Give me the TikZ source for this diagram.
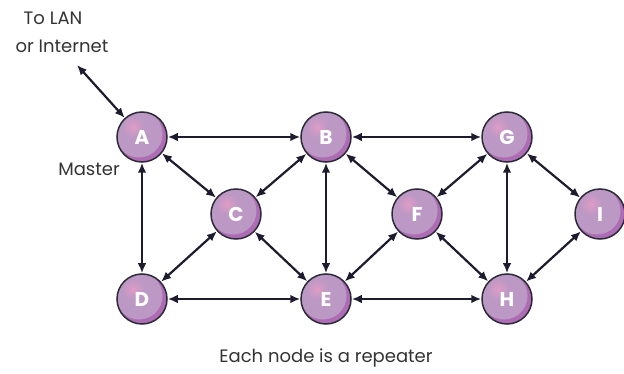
\documentclass[tikz,border=0pt]{standalone}
\usepackage{fontspec}
\setmainfont{Poppins}
\usetikzlibrary{arrows.meta,calc}
\definecolor{mauve}{HTML}{BC98C4}
\definecolor{magdark}{HTML}{AE6CB4}
\definecolor{pinkhl}{HTML}{DE9CC6}
\definecolor{ringc}{HTML}{2B2B38}
\definecolor{arrc}{HTML}{1C1C2E}
\tikzset{
  rep/.style={circle, minimum size=50pt, inner sep=0pt, draw=ringc, line width=1.5pt,
    fill=magdark, text=white, font=\fontsize{20}{20}\selectfont\bfseries,
    path picture={
      \fill[mauve] ($(path picture bounding box.center)+(-3,-3)$) circle (23.5);
      \shade[inner color=pinkhl, outer color=mauve] ($(path picture bounding box.center)+(-9,-10)$) circle (11);
    }},
  link/.style={arrc, line width=2.2pt, {Latex[length=10pt,width=8.5pt]}-{Latex[length=10pt,width=8.5pt]}},
  lbl/.style={text=black!80, font=\fontsize{18}{18}\selectfont, inner sep=0pt}
}
\begin{document}
\begin{tikzpicture}[x=1pt,y=-1pt]
\useasboundingbox (0,0) rectangle (624,374);
\node[rep] (A) at (142,137) {A};
\node[rep] (B) at (326,137) {B};
\node[rep] (G) at (507,137) {G};
\node[rep] (C) at (236,214) {C};
\node[rep] (F) at (417,214) {F};
\node[rep] (I) at (600,214) {I};
\node[rep] (D) at (142,299) {D};
\node[rep] (E) at (326,299) {E};
\node[rep] (H) at (507,299) {H};
\coordinate (lan) at (77,65);
\node[lbl] (t1) at (53,18) {To LAN};
\node[lbl] (t1b) at (62,46) {or Internet};
\node[lbl] (t2) at (89,169) {Master};
\node[lbl] (t3) at (326,358) {Each node is a repeater};
\draw[link] (lan) -- (A);
\draw[link] (A) -- (B);
\draw[link] (A) -- (C);
\draw[link] (A) -- (D);
\draw[link] (B) -- (C);
\draw[link] (B) -- (E);
\draw[link] (B) -- (G);
\draw[link] (B) -- (F);
\draw[link] (C) -- (D);
\draw[link] (C) -- (E);
\draw[link] (D) -- (E);
\draw[link] (E) -- (F);
\draw[link] (E) -- (H);
\draw[link] (F) -- (G);
\draw[link] (F) -- (H);
\draw[link] (G) -- (H);
\draw[link] (G) -- (I);
\draw[link] (H) -- (I);
\end{tikzpicture}
\end{document}
